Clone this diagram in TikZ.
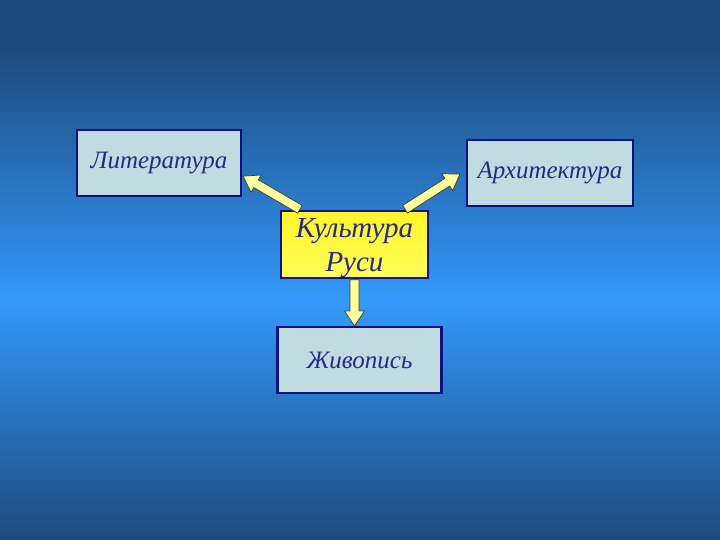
\documentclass[tikz,border=0pt]{standalone}
\usepackage{fontspec}
\setmainfont{Liberation Serif}
\usetikzlibrary{calc}

\definecolor{bgdark}{RGB}{29,74,125}
\definecolor{bglight}{RGB}{51,153,250}
\definecolor{boxfill}{RGB}{192,220,224}
\definecolor{boxline}{RGB}{16,16,130}
\definecolor{textblue}{RGB}{40,40,135}
\definecolor{cultup}{RGB}{255,245,40}
\definecolor{cultdown}{RGB}{255,255,90}
\definecolor{arrfill}{RGB}{255,255,160}
\definecolor{arrline}{RGB}{60,60,40}

\tikzset{
  topicbox/.style = {
      rectangle,
      draw = boxline,
      line width = 2.2pt,
      fill = boxfill,
      text = textblue,
      inner sep = 0pt,
      minimum width = 164pt,
      minimum height = 66pt,
      font = \fontsize{25}{30}\selectfont\itshape},
  centerbox/.style = {
      topicbox,
      top color = cultup,
      bottom color = cultdown,
      minimum width = 147pt,
      align = center,
      font = \fontsize{29}{34}\selectfont\itshape},
  arrowbody/.style = {
      fill = arrfill,
      draw = arrline,
      line width = 0.7pt,
      line join = miter}
}

% block arrow from #1 to #2
\newcommand{\blockarrow}[2]{%
  \coordinate (headbase) at ($(#2)!15pt!(#1)$);
  \filldraw[arrowbody]
      ($(#1)!4.5pt!90:(#2)$) -- ($(headbase)!4.5pt!-90:(#1)$)
      -- ($(headbase)!10pt!-90:(#1)$) -- (#2)
      -- ($(headbase)!10pt!90:(#1)$) -- ($(headbase)!4.5pt!90:(#1)$)
      -- ($(#1)!4.5pt!-90:(#2)$) -- cycle;}

\begin{document}
\begin{tikzpicture}[x=1pt, y=-1pt]
% background
  \useasboundingbox (0,0) rectangle (720,540);
  \fill[bgdark] (0,0) rectangle (720,50);
  \shade[top color = bgdark, bottom color = bglight] (0,50) rectangle (720,300);
  \shade[top color = bglight, bottom color = bgdark] (0,300) rectangle (720,540);

% boxes
  \node[topicbox] (lit) at (159,163) {Литература};
  \node[topicbox, minimum width = 166pt] (arch) at (550,173) {Архитектура};
  \node[centerbox] (cult) at (354.5,244.5) {\rule{0pt}{26pt}Культура\\Руси};
  \node[topicbox] (paint) at (359.5,360) {Живопись};

% arrows
  \blockarrow{[xshift=20pt, yshift=1pt]cult.north west}{[xshift=1pt, yshift=21pt]lit.south east}
  \blockarrow{[xshift=-24pt, yshift=1pt]cult.north east}{[xshift=-6pt, yshift=33pt]arch.south west}
  \blockarrow{[yshift=-1pt]cult.south}{cult.south |- paint.north}

\end{tikzpicture}
\end{document}
